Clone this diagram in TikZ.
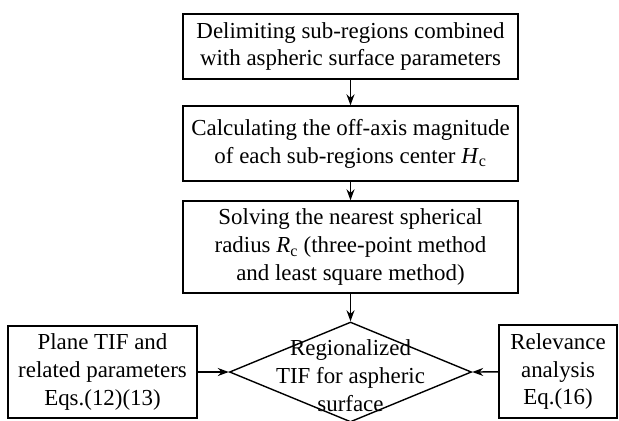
\documentclass[tikz,border=0pt]{standalone}
\usepackage{fontspec}
\setmainfont{Liberation Serif}
\usetikzlibrary{shapes.geometric,arrows.meta}
\begin{document}
\begin{tikzpicture}[x=1bp,y=-1bp,
  every node/.style={font=\fontsize{23}{28}\selectfont},
  stepbox/.style={draw,line width=1.4bp,align=center,inner sep=0pt},
  decision/.style={draw,diamond,line width=1.4bp,inner sep=0pt},
  flow/.style={line width=1.4bp,-{Stealth[length=11bp,width=8bp]}}]
\useasboundingbox (0,0) rectangle (619,420);
\node[stepbox,minimum width=335bp,minimum height=65bp] (delim) at (350.5,46.5)
  {Delimiting sub-regions combined\\with aspheric surface parameters};
\node[stepbox,minimum width=335bp,minimum height=75bp] (offaxis) at (350.5,143.5)
  {Calculating the off-axis magnitude\\of each sub-regions center \textit{H}\textsubscript{c}};
\node[stepbox,minimum width=335bp,minimum height=92bp] (radius) at (350.5,247)
  {Solving the nearest spherical\\radius \textit{R}\textsubscript{c} (three-point method\\and least square method)};
\node[decision,minimum width=242bp,minimum height=100bp] (tif) at (350.5,372) {};
\node[align=center] (tiftext) at (350.5,376) {Regionalized\\TIF for aspheric\\surface};
\node[stepbox,minimum width=189bp,minimum height=92bp] (plane) at (102.5,372)
  {Plane TIF and\\related parameters\\Eqs.(12)(13)};
\node[stepbox,minimum width=118bp,minimum height=93bp] (relev) at (558,371.5)
  {Relevance\\analysis\\Eq.(16)};
\draw[flow] (delim) -- (offaxis);
\draw[flow] (offaxis) -- (radius);
\draw[flow] (radius) -- (tif.north);
\draw[flow] (plane) -- (tif.west);
\draw[flow] (relev) -- (tif.east);
\end{tikzpicture}
\end{document}
